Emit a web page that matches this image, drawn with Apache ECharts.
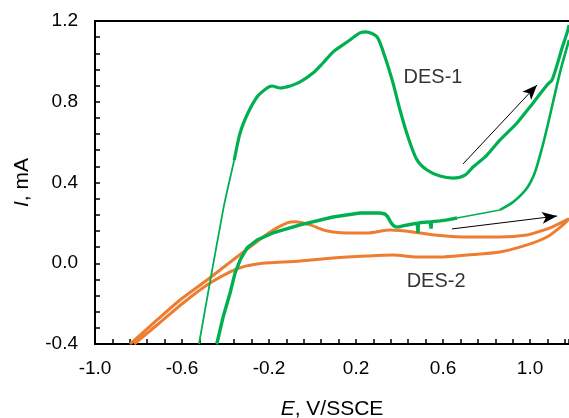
<!DOCTYPE html>
<html>
<head>
<meta charset="utf-8">
<title>Cyclic voltammograms DES-1 / DES-2</title>
<script src="https://cdn.jsdelivr.net/npm/echarts@6/dist/echarts.min.js"></script>
<style>
  html, body { margin: 0; padding: 0; background: #fff; overflow: hidden; }
  #chart { width: 569px; height: 418px; }
</style>
</head>
<body>
<div id="chart"></div>
<script>
// Axis ranges and tick labels
const xRange = [-1.0, 1.179];
const yRange = [-0.4, 1.2];
const xTickLabels = ['-1.0', '-0.6', '-0.2', '0.2', '0.6', '1.0'];
const yTickLabels = ['-0.4', '0.0', '0.4', '0.8', '1.2'];

// DES-1: fast sweep segment leaving the cathodic limit
const des1RiseE = [-0.522, -0.411, -0.36];
const des1RiseI = [-0.400, 0.264, 0.510];

// DES-1: anodic branch with the shoulder and main oxidation peak
const des1AnodicE = [-0.36, -0.333, -0.297, -0.255, -0.209, -0.186, -0.149, -0.103, -0.057, 0.002,
  0.048, 0.094, 0.159, 0.218, 0.246, 0.297, 0.333, 0.370, 0.402, 0.439, 0.480, 0.526, 0.586,
  0.646, 0.701, 0.738, 0.802, 0.862, 0.940, 1.014, 1.078, 1.101, 1.124, 1.147, 1.170, 1.179];
const des1AnodicI = [0.510, 0.645, 0.744, 0.824, 0.868, 0.878, 0.868, 0.878, 0.898, 0.942,
  0.992, 1.046, 1.096, 1.141, 1.146, 1.121, 1.022, 0.893, 0.759, 0.625, 0.512, 0.462, 0.432,
  0.422, 0.437, 0.477, 0.536, 0.611, 0.695, 0.794, 0.883, 0.908, 0.982, 1.066, 1.141, 1.180];

// DES-1: reverse branch falling from the anodic limit
const des1ReturnE = [1.179, 1.138, 1.106, 1.078, 1.055, 1.023, 0.986, 0.922, 0.862];
const des1ReturnI = [1.106, 0.947, 0.800, 0.670, 0.571, 0.452, 0.373, 0.303, 0.264];

// DES-1: fast sweep segment on the reverse branch
const des1GapE = [0.862, 0.664];
const des1GapI = [0.264, 0.224];

// DES-1: reverse branch down to the cathodic limit (with two noise spikes)
const des1CathodicE = [0.664, 0.620, 0.586, 0.547, 0.545, 0.541, 0.500, 0.487, 0.485, 0.481,
  0.448, 0.420, 0.398, 0.382, 0.370, 0.358, 0.346, 0.333, 0.310, 0.218, 0.094, -0.057, -0.182,
  -0.255, -0.301, -0.333, -0.356, -0.379, -0.411, -0.439, -0.442];
const des1CathodicI = [0.224, 0.215, 0.210, 0.206, 0.172, 0.205, 0.202, 0.200, 0.150, 0.199,
  0.192, 0.186, 0.180, 0.180, 0.188, 0.206, 0.230, 0.244, 0.249, 0.249, 0.229, 0.190, 0.150,
  0.115, 0.076, 0.016, -0.048, -0.147, -0.266, -0.395, -0.400];

// DES-2: full cycle (forward then reverse)
const des2E = [-0.839, -0.715, -0.609, -0.485, -0.366, -0.287, -0.195, -0.117, -0.080, -0.011,
  0.048, 0.094, 0.159, 0.251, 0.356, 0.402, 0.494, 0.586, 0.710, 0.862, 0.986, 1.050, 1.092,
  1.150, 1.179,
  1.152, 1.078, 0.986, 0.862, 0.710, 0.586, 0.480, 0.370, 0.251, 0.094, -0.057, -0.200,
  -0.255, -0.320, -0.379, -0.485, -0.595, -0.715, -0.820];
const des2I = [-0.400, -0.281, -0.182, -0.083, 0.016, 0.081, 0.155, 0.200, 0.206, 0.190,
  0.165, 0.155, 0.150, 0.150, 0.165, 0.162, 0.150, 0.138, 0.130, 0.130, 0.140, 0.160, 0.175,
  0.205, 0.220,
  0.190, 0.130, 0.091, 0.056, 0.041, 0.031, 0.031, 0.041, 0.036, 0.026, 0.011, 0.002,
  -0.004, -0.018, -0.043, -0.108, -0.197, -0.306, -0.400];

// Sweep-direction arrows [E, I] start -> end
const arrowDes1 = [[0.692, 0.492], [1.032, 0.883]];
const arrowDes2 = [[0.641, 0.170], [1.124, 0.234]];

// Curve labels [E, I, text]
const curveLabels = [[0.554, 0.918, 'DES-1'], [0.568, -0.088, 'DES-2']];

const GREEN = '#00B050';
const ORANGE = '#ED7D31';
const FONT = 'Liberation Sans, Arial, sans-serif';

function zip(xs, ys) { return xs.map((x, i) => [x, ys[i]]); }

function curve(name, xs, ys, color, width) {
  return {
    name: name, type: 'line', data: zip(xs, ys), showSymbol: false, symbol: 'none',
    smooth: 0.25, lineStyle: { color: color, width: width }, itemStyle: { color: color },
    animation: false, z: 3
  };
}

function arrowLine(pts) {
  return [{ coord: pts[0] }, { coord: pts[1] }];
}

const axisCommon = {
  type: 'value',
  axisLine: { show: true, onZero: false, lineStyle: { color: '#000', width: 2 } },
  axisTick: { show: true, inside: true, length: 5, lineStyle: { color: '#000', width: 1.5 } },
  minorTick: { show: true, splitNumber: 5, length: 5, lineStyle: { color: '#000', width: 1.5 } },
  splitLine: { show: false },
  minorSplitLine: { show: false }
};

const chart = echarts.init(document.getElementById('chart'), null, { renderer: 'canvas', width: 569, height: 418 });

chart.setOption({
  backgroundColor: '#fff',
  animation: false,
  grid: { left: 95, width: 474, top: 21, height: 323, containLabel: false, outerBoundsMode: 'none' },
  xAxis: [
    Object.assign({}, axisCommon, {
      min: xRange[0], max: xRange[1], interval: 0.4,
      name: '{i|E}, V/SSCE', nameLocation: 'middle', nameGap: 55,
      nameTextStyle: {
        fontFamily: FONT, fontSize: 21, color: '#000',
        rich: { i: { fontStyle: 'italic', fontFamily: FONT, fontSize: 21, color: '#000' } }
      },
      axisLabel: {
        margin: 15, fontFamily: FONT, fontSize: 19, color: '#000', showMaxLabel: false,
        formatter: function (v) {
          const s = v.toFixed(1);
          return xTickLabels.indexOf(s) >= 0 ? s : '';
        }
      }
    }),
    {
      type: 'value', position: 'top', min: xRange[0], max: xRange[1],
      axisLine: { show: true, onZero: false, lineStyle: { color: '#000', width: 2 } },
      axisTick: { show: false }, axisLabel: { show: false }, splitLine: { show: false }
    }
  ],
  yAxis: Object.assign({}, axisCommon, {
    min: yRange[0], max: yRange[1], interval: 0.4,
    name: '{i|I}, mA', nameLocation: 'middle', nameGap: 62,
    nameTextStyle: {
      fontFamily: FONT, fontSize: 21, color: '#000',
      rich: { i: { fontStyle: 'italic', fontFamily: FONT, fontSize: 21, color: '#000' } }
    },
    axisLabel: {
      margin: 17, fontFamily: FONT, fontSize: 19, color: '#000',
      formatter: function (v) {
        const s = (Math.abs(v) < 1e-9 ? 0 : v).toFixed(1);
        return yTickLabels.indexOf(s) >= 0 ? s : '';
      }
    }
  }),
  series: [
    curve('DES-2', des2E, des2I, ORANGE, 3),
    curve('DES-1 rise', des1RiseE, des1RiseI, GREEN, 1.8),
    curve('DES-1 anodic', des1AnodicE, des1AnodicI, GREEN, 3.2),
    curve('DES-1 return', des1ReturnE, des1ReturnI, GREEN, 2.6),
    curve('DES-1 gap', des1GapE, des1GapI, GREEN, 1.6),
    Object.assign(curve('DES-1 cathodic', des1CathodicE, des1CathodicI, GREEN, 3.4), { smooth: false }),
    {
      name: 'annotations', type: 'scatter', data: curveLabels, symbolSize: 0,
      silent: true, animation: false, z: 5,
      label: {
        show: true, position: 'inside', fontFamily: FONT, fontSize: 20, color: '#000',
        formatter: function (p) { return p.value[2]; }
      },
      markLine: {
        silent: true, animation: false, symbol: ['none', 'arrow'], symbolSize: [9, 15],
        label: { show: false },
        lineStyle: { color: '#000', width: 1, type: 'solid' },
        data: [arrowLine(arrowDes1), arrowLine(arrowDes2)]
      }
    }
  ]
});
</script>
</body>
</html>
